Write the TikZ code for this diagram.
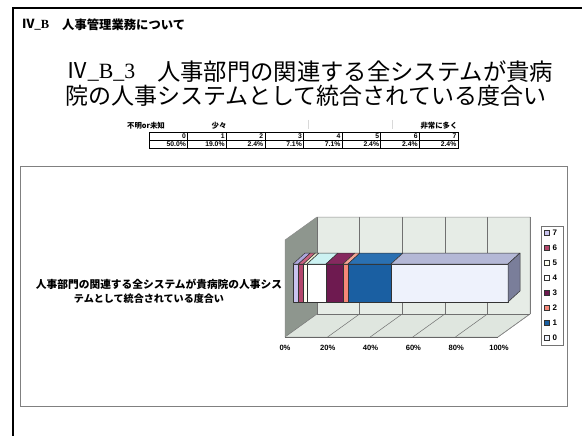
\documentclass[tikz,border=0pt]{standalone}
\usepackage{fontspec}
\usepackage{graphicx}
\setmainfont{Liberation Sans}
\newfontfamily\jp{Noto Sans CJK JP}
\newfontfamily\ser{Liberation Serif}
\definecolor{wallback}{HTML}{E6ECE6}
\definecolor{wallleft}{HTML}{8E968E}
\definecolor{wallfloor}{HTML}{DFE6DF}
\definecolor{gridc}{HTML}{707070}
\definecolor{fA}{HTML}{C9C3EE}\definecolor{tA}{HTML}{ADA6DC}
\definecolor{fB}{HTML}{B4486C}\definecolor{tB}{HTML}{C8627F}
\definecolor{fC}{HTML}{FFFFF0}\definecolor{tC}{HTML}{EEEED0}
\definecolor{fD}{HTML}{FFFFFF}\definecolor{tD}{HTML}{CCF2F2}
\definecolor{fE}{HTML}{6E1A50}\definecolor{tE}{HTML}{86295F}
\definecolor{fF}{HTML}{F58878}\definecolor{tF}{HTML}{F6A494}
\definecolor{fG}{HTML}{1A5FA2}\definecolor{tG}{HTML}{2A70B2}
\definecolor{fH}{HTML}{EEF2FC}\definecolor{tH}{HTML}{B4B8D6}
\definecolor{rH}{HTML}{7A7E9A}
\begin{document}
\begin{tikzpicture}[x=1pt,y=-1pt,
  hdr/.style={inner sep=0pt,anchor=west,font={\jp\bfseries\fontsize{12.2}{14}\selectfont}},
  ttl/.style={inner sep=0pt,anchor=west,font={\jp\fontsize{23}{27}\selectfont}},
  scale lbl/.style={inner sep=0pt,font={\jp\bfseries\fontsize{7.4}{9}\selectfont}},
  cell/.style={inner sep=0pt,anchor=east,font={\bfseries\fontsize{6.8}{8}\selectfont}},
  cat/.style={inner sep=0pt,font={\jp\bfseries\fontsize{10.5}{12}\selectfont}},
  axl/.style={inner sep=0pt,font={\bfseries\fontsize{7.6}{9}\selectfont}},
  lgl/.style={inner sep=0pt,anchor=west,font={\bfseries\fontsize{8}{9}\selectfont}},
  seg/.style={draw=black!80,line width=0.5pt,line join=round},
  gl/.style={draw=gridc,line width=0.5pt}]
\useasboundingbox (0,0) rectangle (582,436);
\fill[white] (0,0) rectangle (582,436);
% outer frame
\draw[line width=1.2pt] (13,8) -- (582,8);
\draw[line width=2.4pt] (13,7.4) -- (13,436);
% header
\node[hdr,font={\ser\bfseries\fontsize{12}{14}\selectfont}] (hdra) at (22,25) {\resizebox{27pt}{!}{{\jp Ⅳ}\_B}};
\node[hdr] (hdrb) at (62,25) {\resizebox{123pt}{!}{人事管理業務について}};
% title
\node[ttl,font={\ser\fontsize{23}{27}\selectfont}] (t1a) at (66,72) {\resizebox{69pt}{!}{{\jp Ⅳ}\_B\_3}};
\node[ttl] (t1b) at (157,72) {\resizebox{396pt}{!}{人事部門の関連する全システムが貴病}};
\node[ttl] (t2) at (65,96) {\resizebox{481pt}{!}{院の人事システムとして統合されている度合い}};
% scale labels
\node[scale lbl] (s0) at (146,126) {不明or未知};
\node[scale lbl] (s1) at (219,126) {少々};
\node[scale lbl] (s2) at (439,126) {非常に多く};
\draw[black!15,line width=0.6pt] (308,120) -- (308,129) (392,120) -- (392,129);
% table
\draw[line width=0.6pt] (149,132) rectangle (458,148);
\draw[line width=0.6pt] (149,140) -- (458,140);
\foreach \i in {1,...,7} \draw[line width=0.6pt] ({149+38.625*\i},132) -- ({149+38.625*\i},148);
\foreach \i/\p in {0/50.0\%,1/19.0\%,2/2.4\%,3/7.1\%,4/7.1\%,5/2.4\%,6/2.4\%,7/2.4\%}{
  \node[cell] (c\i) at ({149+38.625*(\i+1)-1.5},136.2) {\i};
  \node[cell] (p\i) at ({149+38.625*(\i+1)-1.5},144.2) {\p};
}
% chart area
\draw[black!50,line width=0.8pt] (20,166) rectangle (567,406);
% category label
\node[cat] (cl1) at (159,284) {\resizebox{246pt}{!}{人事部門の関連する全システムが貴病院の人事シス}};
\node[cat] (cl2) at (149,298.5) {\resizebox{150pt}{!}{テムとして統合されている度合い}};
% walls
\fill[wallleft] (285,240) -- (317,217) -- (317,314) -- (285,337) -- cycle;
\fill[wallback] (317,217) rectangle (530,314);
\fill[wallfloor] (285,337) -- (317,314) -- (530,314) -- (498,337) -- cycle;
\foreach \k in {0,...,5}{
  \draw[gl] ({317+42.6*\k},217) -- ({317+42.6*\k},314);
  \draw[gl] ({285+42.6*\k},337) -- ({317+42.6*\k},314);
}
\draw[black!45,line width=0.5pt] (285,240) -- (317,217) -- (530,217) -- (530,314) -- (498,337) -- (285,337) -- cycle;
\draw[gl] (317,314) -- (530,314);
\draw[black!60,line width=0.6pt] (285,337) -- (498,337);
% bar segments
\foreach \a/\b/\c in {293/298.4/A,298.4/303.5/B,303.5/307/C,307/326/D,326/343/E,343/348/F,348/391/G,391/508/H}{
  \filldraw[seg,fill=f\c] (\a,264) rectangle (\b,302);
  \filldraw[seg,fill=t\c] (\a,264) -- (\b,264) -- (\b+12,253) -- (\a+12,253) -- cycle;
}
\filldraw[seg,fill=rH] (508,264) -- (520,253) -- (520,291) -- (508,302) -- cycle;
% axis labels
\foreach \i/\t in {0/0\%,1/20\%,2/40\%,3/60\%,4/80\%,5/100\%}
  \node[axl] (ax\i) at ({285+42.8*\i},348) {\t};
% legend
\draw[black!55,line width=0.6pt,fill=white] (541,226) rectangle (563,345);
\foreach \i/\l/\c in {0/7/fA,1/6/fB,2/5/fC,3/4/fD,4/3/fE,5/2/fF,6/1/fG,7/0/fH}{
  \filldraw[draw=black!80,line width=0.4pt,fill=\c] (544,{233+15*\i-2.6}) rectangle (549.5,{233+15*\i+2.6});
  \node[lgl] (lg\i) at (552.5,{233+15*\i}) {\l};
}
\end{tikzpicture}
\end{document}
